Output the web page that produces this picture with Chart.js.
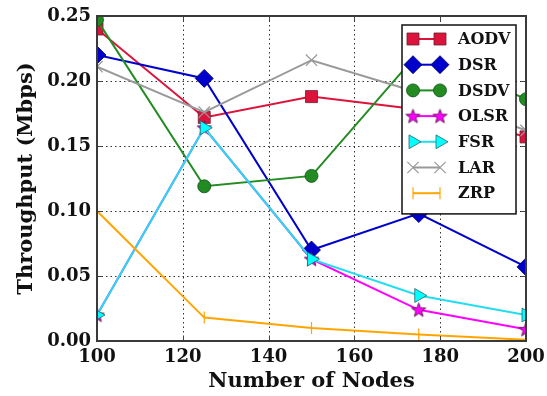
<!DOCTYPE html>
<html>
<head>
<meta charset="utf-8">
<script src="https://cdn.jsdelivr.net/npm/chart.js@4.4.1/dist/chart.umd.min.js"></script>
<style>
  html, body { margin: 0; padding: 0; background: #fff; }
  #wrap { width: 547px; height: 396px; }
</style>
</head>
<body>
<div id="wrap"><canvas id="chart" width="547" height="396"></canvas></div>
<script>
'use strict';

// ── Data ─────────────────────────────────────────────────────
const nodes = [100, 125, 150, 175, 200];
const aodv  = [0.240, 0.172, 0.188, 0.178, 0.157];
const dsr   = [0.220, 0.202, 0.070, 0.098, 0.057];
const dsdv  = [0.247, 0.119, 0.127, 0.222, 0.186];
const olsr  = [0.020, 0.164, 0.063, 0.024, 0.009];
const fsr   = [0.020, 0.164, 0.063, 0.035, 0.020];
const lar   = [0.211, 0.176, 0.216, 0.191, 0.162];
const zrp   = [0.100, 0.018, 0.010, 0.005, 0.001];

const xTicks = [100, 120, 140, 160, 180, 200];
const yTicks = [0.00, 0.05, 0.10, 0.15, 0.20, 0.25];

const FONT = '"DejaVu Serif", serif';

// filled five-point star, Chart.js 'star' is only an asterisk
function starMarker(size, fill, stroke) {
  const c = document.createElement('canvas');
  c.width = size; c.height = size;
  const g = c.getContext('2d');
  const cx = size / 2, cy = size / 2 + 0.6, R = size / 2 - 1, r = R * 0.42;
  g.beginPath();
  for (let i = 0; i < 10; i++) {
    const a = -Math.PI / 2 + i * Math.PI / 5;
    const rad = i % 2 ? r : R;
    g.lineTo(cx + rad * Math.cos(a), cy + rad * Math.sin(a));
  }
  g.closePath();
  g.fillStyle = fill; g.fill();
  g.lineWidth = 0.8; g.strokeStyle = stroke; g.stroke();
  return c;
}

const pts = arr => nodes.map((n, i) => ({ x: n, y: arr[i] }));

const series = [
  { label: 'AODV', data: aodv, line: '#DC143C', fill: '#DC143C', edge: '#6b2030', style: 'rect',     r: 8.5, rot: 0 },
  { label: 'DSR',  data: dsr,  line: '#0000CD', fill: '#0000CD', edge: '#000050', style: 'rectRot',  r: 9,   rot: 0 },
  { label: 'DSDV', data: dsdv, line: '#228B22', fill: '#228B22', edge: '#14501a', style: 'circle',   r: 6.5, rot: 0 },
  { label: 'OLSR', data: olsr, line: '#FF00FF', fill: '#FF00FF', edge: '#5a1050', style: starMarker(17, '#FF00FF', '#4a1040'), r: 8, rot: 0 },
  { label: 'FSR',  data: fsr,  line: '#22DDF0', fill: '#00FFFF', edge: '#2a6670', style: 'triangle', r: 8,   rot: 90 },
  { label: 'LAR',  data: lar,  line: '#999999', fill: '#999999', edge: '#999999', style: 'crossRot', r: 8,   rot: 0 },
  { label: 'ZRP',  data: zrp,  line: '#FFA500', fill: '#FFA500', edge: '#FFA500', style: 'line',     r: 6,   rot: 90 }
];

const datasets = series.map((s, i) => ({
  label: s.label,
  data: pts(s.data),
  borderColor: s.line,
  borderWidth: 2,
  pointStyle: s.style,
  pointRadius: s.r,
  pointRotation: s.rot,
  pointBackgroundColor: s.fill,
  pointBorderColor: s.edge,
  pointBorderWidth: (s.style === 'crossRot' || s.style === 'line') ? 1.2 : 0.8,
  tension: 0,
  fill: false,
  clip: 0,
  order: series.length - i
}));

// ── Dotted grid, clipping, frame with inner ticks ────────────
const framePlugin = {
  id: 'frame',
  beforeDatasetsDraw(chart) {
    const { ctx, chartArea: a, scales: { x, y } } = chart;
    ctx.save();
    ctx.strokeStyle = '#333';
    ctx.lineWidth = 1;
    ctx.setLineDash([1.5, 3]);
    xTicks.slice(1, -1).forEach(v => {
      const px = Math.round(x.getPixelForValue(v)) + 0.5;
      ctx.beginPath(); ctx.moveTo(px, a.top); ctx.lineTo(px, a.bottom); ctx.stroke();
    });
    yTicks.slice(1, -1).forEach(v => {
      const py = Math.round(y.getPixelForValue(v)) + 0.5;
      ctx.beginPath(); ctx.moveTo(a.left, py); ctx.lineTo(a.right, py); ctx.stroke();
    });
    ctx.restore();
    // markers at the edges get cut by the axes, as in the reference
    ctx.save();
    ctx.beginPath();
    ctx.rect(a.left, a.top, a.right - a.left, a.bottom - a.top);
    ctx.clip();
  },
  afterDatasetsDraw(chart) {
    const { ctx, chartArea: a, scales: { x, y } } = chart;
    ctx.restore();
    ctx.save();
    ctx.strokeStyle = '#444';
    ctx.lineWidth = 1;
    xTicks.forEach(v => {
      const px = Math.round(x.getPixelForValue(v)) + 0.5;
      ctx.beginPath(); ctx.moveTo(px, a.bottom); ctx.lineTo(px, a.bottom - 5); ctx.stroke();
      ctx.beginPath(); ctx.moveTo(px, a.top); ctx.lineTo(px, a.top + 5); ctx.stroke();
    });
    yTicks.forEach(v => {
      const py = Math.round(y.getPixelForValue(v)) + 0.5;
      ctx.beginPath(); ctx.moveTo(a.left, py); ctx.lineTo(a.left + 5, py); ctx.stroke();
      ctx.beginPath(); ctx.moveTo(a.right, py); ctx.lineTo(a.right - 5, py); ctx.stroke();
    });
    ctx.lineWidth = 2;
    ctx.strokeStyle = '#3a3a3a';
    ctx.strokeRect(a.left, a.top, a.right - a.left, a.bottom - a.top);
    ctx.restore();
  }
};

// ── Legend: line with a marker at each end ───────────────────
const legendPlugin = {
  id: 'sampleLegend',
  afterDraw(chart) {
    const { ctx, chartArea: a } = chart;
    const boxL = a.right - 124, boxT = a.top + 9, boxW = 114, rowH = 25.7;
    const boxH = rowH * series.length + 9;
    ctx.save();
    ctx.fillStyle = '#fff';
    ctx.fillRect(boxL, boxT, boxW, boxH);
    ctx.lineWidth = 1.5;
    ctx.strokeStyle = '#111';
    ctx.strokeRect(boxL, boxT, boxW, boxH);
    series.forEach((s, i) => {
      const ds = chart.data.datasets[i];
      const cy = boxT + 14 + i * rowH;
      const x1 = boxL + 11, x2 = boxL + 38;
      ctx.strokeStyle = ds.borderColor;
      ctx.lineWidth = 2;
      ctx.setLineDash([]);
      ctx.beginPath(); ctx.moveTo(x1, cy); ctx.lineTo(x2, cy); ctx.stroke();
      ctx.fillStyle = ds.pointBackgroundColor;
      ctx.strokeStyle = ds.pointBorderColor;
      ctx.lineWidth = ds.pointBorderWidth;
      const opts = { pointStyle: ds.pointStyle, radius: ds.pointRadius, rotation: ds.pointRotation, borderWidth: ds.pointBorderWidth };
      [x1, x2].forEach(px => Chart.helpers.drawPoint(ctx, opts, px, cy));
      ctx.fillStyle = '#111';
      ctx.font = 'bold 16px ' + FONT;
      ctx.textBaseline = 'middle';
      ctx.textAlign = 'left';
      ctx.fillText(s.label, boxL + 56, cy + 1);
    });
    ctx.restore();
  }
};

new Chart(document.getElementById('chart'), {
  type: 'line',
  data: { datasets },
  options: {
    responsive: false,
    animation: false,
    events: [],
    layout: { padding: { top: 16, right: 21, left: 0, bottom: 0 } },
    plugins: { legend: { display: false }, tooltip: { enabled: false } },
    scales: {
      x: {
        type: 'linear',
        min: 100, max: 200,
        afterFit: s => { s.height = 55; s.paddingLeft = 0; s.paddingRight = 0; },
        afterBuildTicks: s => { s.ticks = xTicks.map(v => ({ value: v })); },
        grid: { display: false, drawTicks: false },
        border: { display: false },
        ticks: { color: '#111', padding: 6, font: { family: FONT, size: 18, weight: 'bold' }, maxRotation: 0 },
        title: { display: true, text: 'Number of Nodes', color: '#111', padding: { top: 0, bottom: 2 },
                 font: { family: FONT, size: 21, weight: 'bold' } }
      },
      y: {
        type: 'linear',
        min: 0, max: 0.25,
        afterFit: s => { s.width = 97; s.paddingTop = 0; s.paddingBottom = 0; },
        afterBuildTicks: s => { s.ticks = yTicks.map(v => ({ value: v })); },
        grid: { display: false, drawTicks: false },
        border: { display: false },
        ticks: { color: '#111', padding: 6, font: { family: FONT, size: 18, weight: 'bold' },
                 callback: v => Number(v).toFixed(2) },
        title: { display: true, text: 'Throughput (Mbps)', color: '#111', padding: { top: 14, bottom: 0 },
                 font: { family: FONT, size: 21, weight: 'bold' } }
      }
    }
  },
  plugins: [framePlugin, legendPlugin]
});
</script>
</body>
</html>
